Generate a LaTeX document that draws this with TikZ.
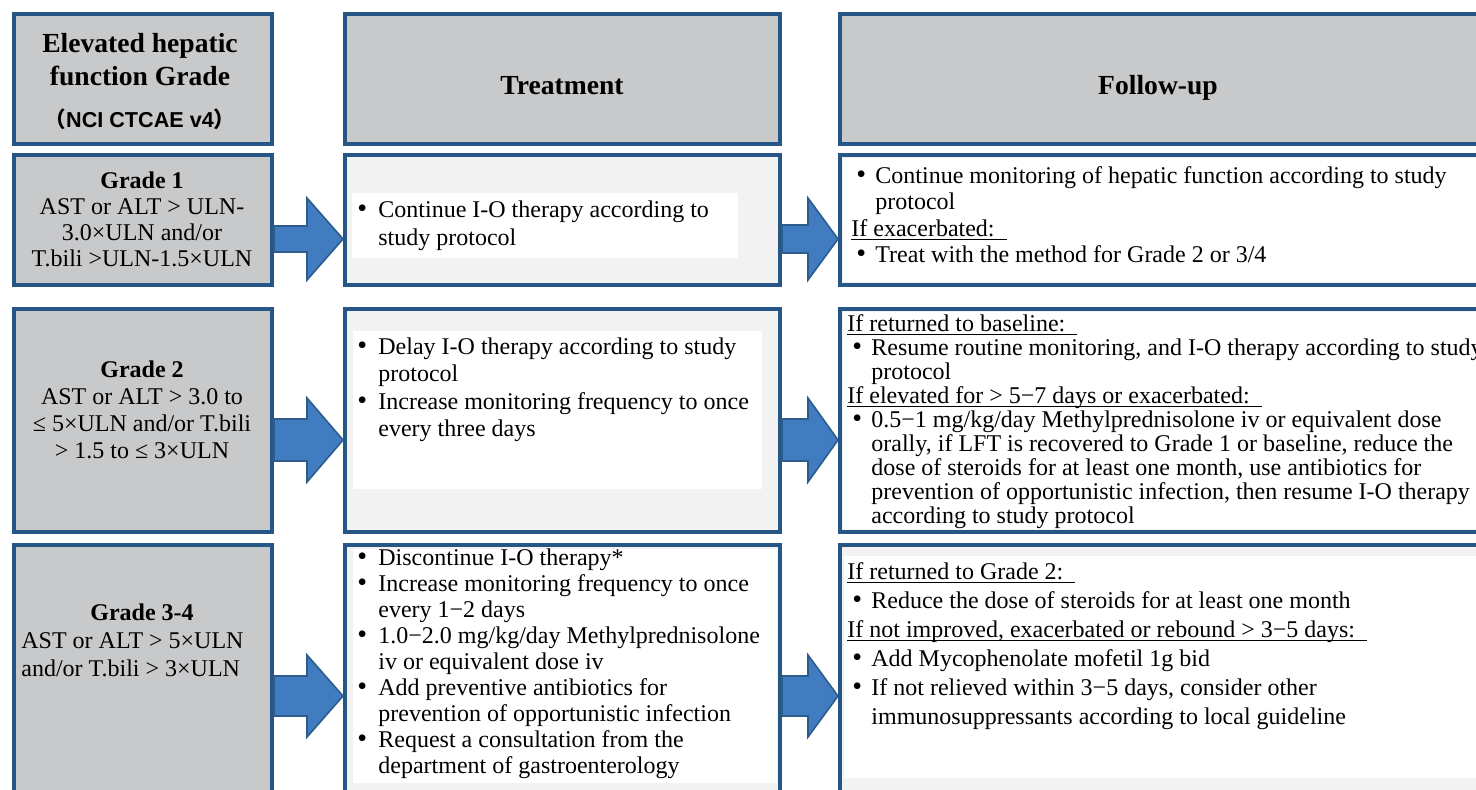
\documentclass[tikz,border=0pt]{standalone}
\usepackage{fontspec}
\setmainfont{Liberation Serif}
\newfontfamily\hsans{Liberation Sans}
\newfontfamily\cjk{Noto Sans CJK SC}
\usepackage{xcolor}
\usepackage{tikz}
\usetikzlibrary{calc}
\usetikzlibrary{positioning}
\definecolor{boxblue}{RGB}{38,86,134}
\definecolor{hdrgray}{RGB}{200,201,203}
\definecolor{softgray}{RGB}{242,242,242}
\definecolor{arrowblue}{RGB}{66,124,192}
\definecolor{arrowline}{RGB}{44,92,142}
\tikzstyle{bigarrow}= [draw=arrowline, fill=arrowblue, line width=0.8pt, line join=miter]

% block arrow: from, to, y, shaft half, head half, head length
\newcommand{\hop}[6]{%
  \coordinate (hopy) at (0,#3);
  \draw[bigarrow] ($(#1.east |- hopy)+(0,-#4)$) -- ($(#2.west |- hopy)+(-#6,-#4)$)
    -- ++(0,#4-#5) -- (#2.west |- hopy) -- ($(#2.west |- hopy)+(-#6,#5)$)
    -- ++(0,#4-#5) -- ($(#1.east |- hopy)+(0,#4)$) -- cycle;
}
\newcommand{\uhead}[1]{\setbox0=\hbox{#1\hspace{6pt}}\rlap{\rule[-2pt]{\wd0}{0.7pt}}\box0}
\newcommand{\bu}{{\fontsize{14}{14}\selectfont\textbullet}}
\newcommand{\rb}{\hspace*{2.5pt}\bu}

\begin{document}
\begin{tikzpicture}[
    x=0.5pt, y=-0.5pt,
    box/.style={draw=boxblue, line width=2.2pt, anchor=north west, inner sep=0pt},
    grey/.style={box, fill=hdrgray},
    pale/.style={box, fill=softgray},
    body/.style={inner sep=0pt, anchor=base west, font=\fontsize{12}{#1}\selectfont},
    mid/.style={body=#1, anchor=base},
    head/.style={inner sep=0pt, anchor=base, font=\fontsize{13.8}{16.5}\selectfont\bfseries},
  ]
  \path[fill=white, use as bounding box] (0,0) rectangle (1476,789);
  \clip (0,0) rectangle (1476,789);

  \node[grey, minimum width=128.8pt, minimum height=64.8pt] (hgrade) at (12,12) {};
  \node[grey, minimum width=217.3pt, minimum height=64.8pt, right=34.5pt of hgrade.north east, anchor=north west] (htreat) {};
  \node[grey, minimum width=337.8pt, minimum height=64.8pt, right=28pt of htreat.north east, anchor=north west] (hfollow) {};

  \node[grey, minimum width=128.8pt, minimum height=64.8pt, below=3.5pt of hgrade.south west, anchor=north west] (g1) {};
  \node[pale, minimum width=217.3pt, minimum height=64.8pt, right=34.5pt of g1.north east, anchor=north west] (t1) {};
  \node[pale, minimum width=337.8pt, minimum height=64.8pt, right=28pt of t1.north east, anchor=north west] (f1) {};

  \node[grey, minimum width=128.8pt, minimum height=111.3pt, below=10pt of g1.south west, anchor=north west] (g2) {};
  \node[pale, minimum width=217.3pt, minimum height=111.3pt, right=34.5pt of g2.north east, anchor=north west] (t2) {};
  \node[pale, minimum width=337.8pt, minimum height=111.3pt, right=28pt of t2.north east, anchor=north west] (f2) {};

  \node[grey, minimum width=128.8pt, minimum height=131.3pt, below=4.5pt of g2.south west, anchor=north west] (g3) {};
  \node[pale, minimum width=217.3pt, minimum height=131.3pt, right=34.5pt of g3.north east, anchor=north west] (t3) {};
  \node[pale, minimum width=337.8pt, minimum height=131.3pt, right=28pt of t3.north east, anchor=north west] (f3) {};

  \fill[white] (352,193) rectangle (738,258);
  \fill[white] (353,331) rectangle (762,489);
  \fill[white] (353,549) rectangle (777,783);
  \fill[white] (843,158) rectangle (1490,282);
  \fill[white] (843,312) rectangle (1490,529);
  \fill[white] (844,556) rectangle (1490,778);

  \node[head] (hgradet) at (140,52) {\begin{tabular}[t]{@{}c@{}}
    Elevated hepatic\\ function Grade\\[4.5pt]
    {\fontsize{10.8}{12}\selectfont\cjk（\hsans\bfseries NCI CTCAE v4\cjk）}
  \end{tabular}};
  \node[head] (htreatt) at (562,94) {Treatment};
  \node[head] (hfollowt) at (1158,94) {Follow-up};

  \node[mid=13pt] (g1t) at (142,188) {\begin{tabular}[t]{@{}c@{}}
    \textbf{Grade 1}\\ AST or ALT > ULN-\\ 3.0×ULN and/or\\ T.bili >ULN-1.5×ULN
  \end{tabular}};
  \node[mid=13.5pt] (g2t) at (142,377) {\begin{tabular}[t]{@{}c@{}}
    \textbf{Grade 2}\\ AST or ALT > 3.0 to\\ ≤ 5×ULN and/or T.bili\\ > 1.5 to ≤ 3×ULN
  \end{tabular}};
  \node[body=14pt] (g3t) at (21,620) {\begin{tabular}[t]{@{}l@{}}
    \hspace*{34.5pt}\textbf{Grade 3-4}\\ AST or ALT > 5×ULN\\ and/or T.bili > 3×ULN
  \end{tabular}};

  \node[body=14pt] (t1t) at (357,217) {\begin{tabular}[t]{@{}p{10.5pt}@{}l@{}}
    \bu & Continue I-O therapy according to\\ & study protocol
  \end{tabular}};
  \node[body=13.75pt] (t2t) at (357,354) {\begin{tabular}[t]{@{}p{10.5pt}@{}l@{}}
    \bu & Delay I-O therapy according to study\\ & protocol\\
    \bu & Increase monitoring frequency to once\\ & every three days
  \end{tabular}};
  \node[body=13pt] (t3t) at (357,565) {\begin{tabular}[t]{@{}p{10.5pt}@{}l@{}}
    \bu & Discontinue I-O therapy*\\
    \bu & Increase monitoring frequency to once\\ & every 1−2 days\\
    \bu & 1.0−2.0 mg/kg/day Methylprednisolone\\ & iv or equivalent dose iv\\
    \bu & Add preventive antibiotics for\\ & prevention of opportunistic infection\\
    \bu & Request a consultation from the\\ & department of gastroenterology
  \end{tabular}};

  \node[body=13.3pt] (f1t) at (851,183) {\begin{tabular}[t]{@{}p{12pt}@{}l@{}}
    \rb & Continue monitoring of hepatic function according to study\\ & protocol\\
    \multicolumn{2}{@{}l@{}}{\uhead{If exacerbated:}}\\
    \rb & Treat with the method for Grade 2 or 3/4
  \end{tabular}};
  \node[body=12pt] (f2t) at (847,331) {\begin{tabular}[t]{@{}p{12pt}@{}l@{}}
    \multicolumn{2}{@{}l@{}}{\uhead{If returned to baseline:}}\\
    \rb & Resume routine monitoring, and I-O therapy according to study\\ & protocol\\
    \multicolumn{2}{@{}l@{}}{\uhead{If elevated for > 5−7 days or exacerbated:}}\\
    \rb & 0.5−1 mg/kg/day Methylprednisolone iv or equivalent dose\\
    & orally, if LFT is recovered to Grade 1 or baseline, reduce the\\
    & dose of steroids for at least one month, use antibiotics for\\
    & prevention of opportunistic infection, then resume I-O therapy\\
    & according to study protocol
  \end{tabular}};
  \node[body=14.5pt] (f3t) at (847,579) {\begin{tabular}[t]{@{}p{12pt}@{}l@{}}
    \multicolumn{2}{@{}l@{}}{\uhead{If returned to Grade 2:}}\\
    \rb & Reduce the dose of steroids for at least one month\\
    \multicolumn{2}{@{}l@{}}{\uhead{If not improved, exacerbated or rebound > 3−5 days:}}\\
    \rb & Add Mycophenolate mofetil 1g bid\\
    \rb & If not relieved within 3−5 days, consider other\\ & immunosuppressants according to local guideline
  \end{tabular}};

  \hop{g1}{t1}{239}{13}{41}{36}
  \hop{t1}{f1}{239}{14}{41}{30}
  \hop{g2}{t2}{440}{21}{42}{36}
  \hop{t2}{f2}{440}{21}{42}{30}
  \hop{g3}{t3}{696}{20}{41}{36}
  \hop{t3}{f3}{696}{20}{41}{30}
\end{tikzpicture}
\end{document}
